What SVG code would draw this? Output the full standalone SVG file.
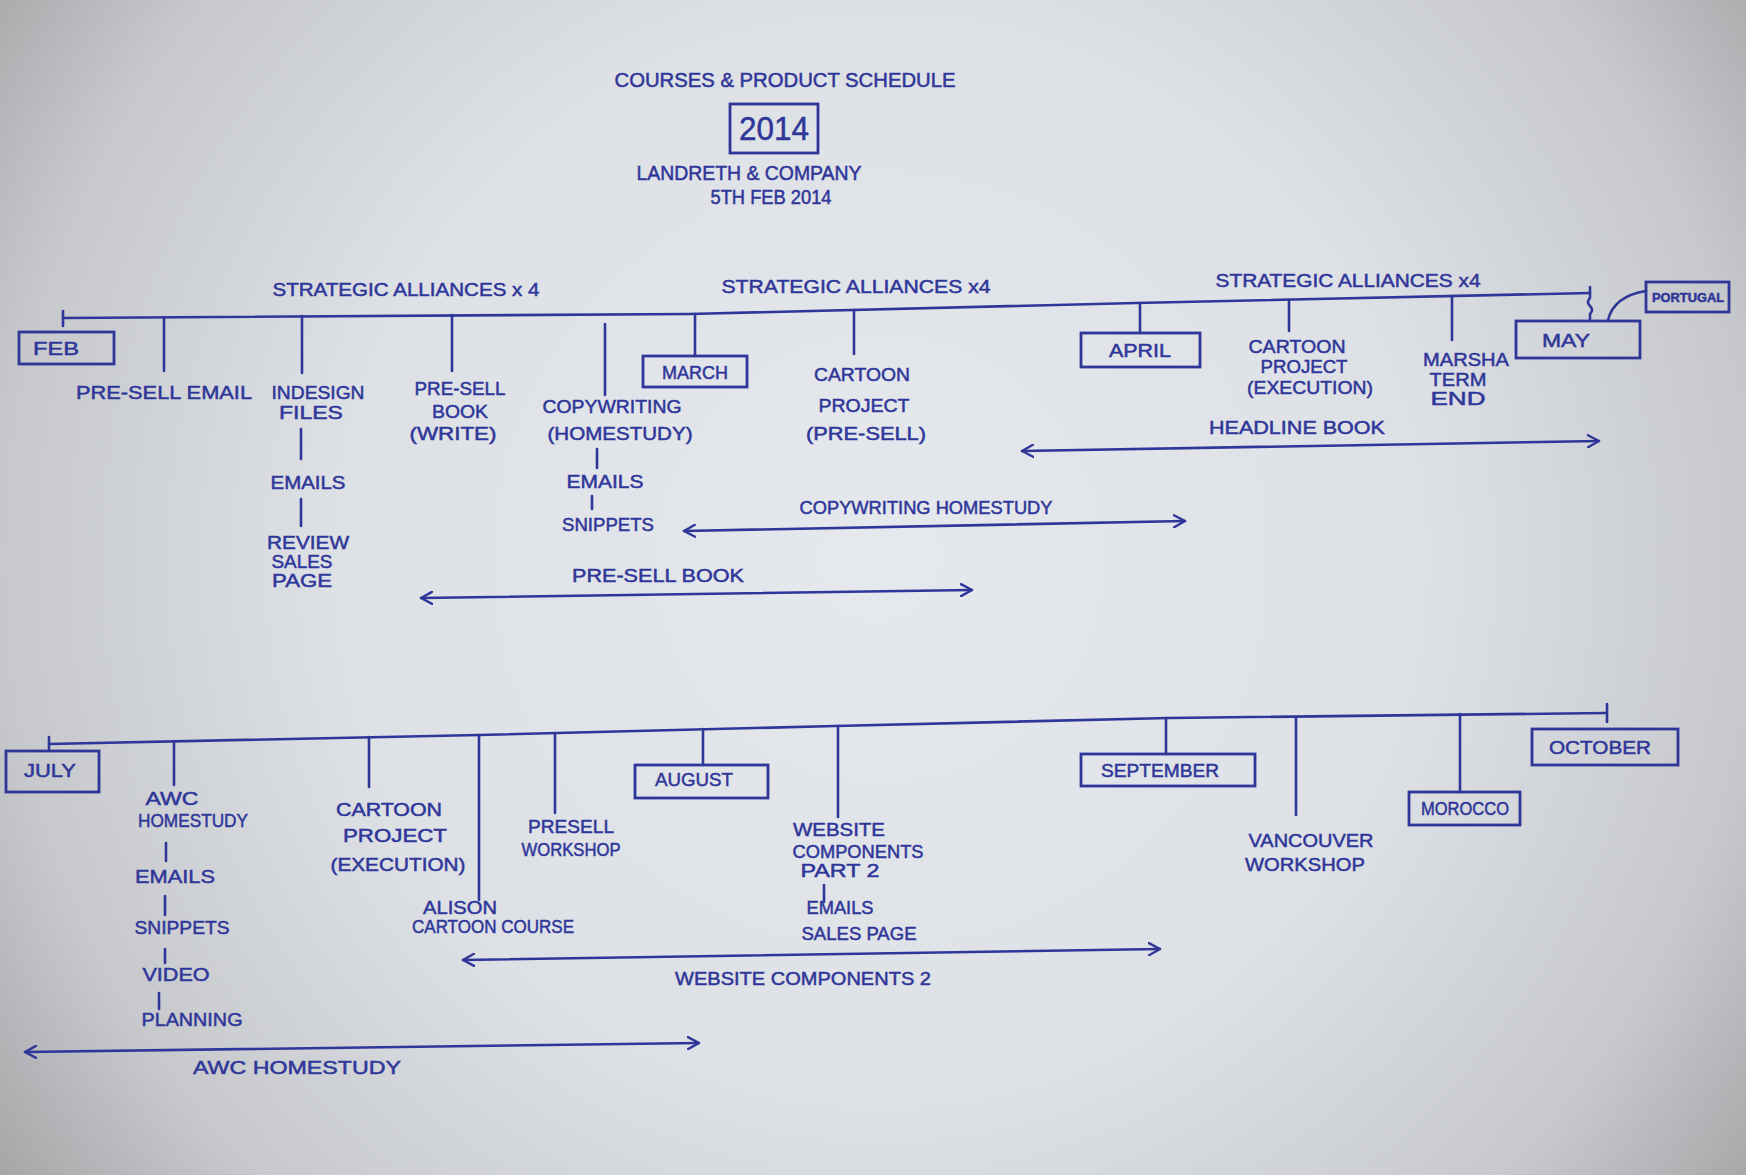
<svg xmlns="http://www.w3.org/2000/svg" width="1746" height="1175" viewBox="0 0 1746 1175">
<defs>
<radialGradient id="paper" cx="880" cy="560" r="1100" gradientUnits="userSpaceOnUse">
<stop offset="0" stop-color="#e5e8ed"/>
<stop offset="0.5" stop-color="#dde0e5"/>
<stop offset="0.8" stop-color="#c6c8cc"/>
<stop offset="1" stop-color="#a2a2a3"/>
</radialGradient>
<marker id="ah" viewBox="0 0 14 14" refX="12" refY="7" markerWidth="14" markerHeight="14" markerUnits="userSpaceOnUse" orient="auto-start-reverse">
<path d="M1,1 L12,7 L1,13" fill="none" stroke="#2f3699" stroke-width="2.4" stroke-linecap="round" stroke-linejoin="round"/>
</marker>
<style>
.ink{stroke:#2f3699;stroke-width:2.6;fill:none;stroke-linecap:round;stroke-linejoin:round}
.box{stroke:#2f3699;stroke-width:2.8;fill:none}
.arr{stroke:#2f3699;stroke-width:2.6;fill:none;stroke-linecap:round;marker-start:url(#ah);marker-end:url(#ah)}
text{font-family:"Liberation Sans",Arial,sans-serif;fill:#2f3699;stroke:#2f3699;stroke-width:0.5;font-size:19px;text-anchor:middle}
.t{font-size:20px}
.yr{font-size:34px}
.sm{font-size:13px;font-weight:bold}
</style>
</defs>
<rect x="0" y="0" width="1746" height="1175" fill="url(#paper)"/>

<g id="title">
<text class="t" x="785" y="87" textLength="341" lengthAdjust="spacingAndGlyphs">COURSES &amp; PRODUCT SCHEDULE</text>
<rect class="box" x="730" y="104" width="88" height="49"/>
<text class="yr" x="774" y="140" textLength="70" lengthAdjust="spacingAndGlyphs">2014</text>
<text class="t" x="749" y="180" textLength="225" lengthAdjust="spacingAndGlyphs">LANDRETH &amp; COMPANY</text>
<text class="t" x="771" y="204" textLength="121" lengthAdjust="spacingAndGlyphs">5TH FEB 2014</text>
</g>

<g id="connectors">
<path class="ink" d="M63,318 L690,314 L1136,303 L1590,293"/>
<path class="ink" d="M63,311 L63,326"/>
<path class="ink" d="M1590,287 L1590,298 Q1586,302 1590,306 Q1594,310 1590,314 L1590,320"/>
<path class="ink" d="M164,317 L164,371"/>
<path class="ink" d="M302,316 L302,373"/>
<path class="ink" d="M452,315 L452,371"/>
<path class="ink" d="M605,324 L605,395"/>
<path class="ink" d="M695,314 L695,356"/>
<path class="ink" d="M854,310 L854,354"/>
<path class="ink" d="M1140,303 L1140,333"/>
<path class="ink" d="M1289,300 L1289,331"/>
<path class="ink" d="M1452,296 L1452,340"/>
<path class="ink" d="M1608,320 Q1614,296 1646,291"/>
<path class="ink" d="M301,429 L301,459"/>
<path class="ink" d="M301,499 L301,526"/>
<path class="ink" d="M597,449 L597,468"/>
<path class="ink" d="M592,496 L592,509"/>
<line class="arr" x1="1022" y1="451" x2="1599" y2="441"/>
<line class="arr" x1="684" y1="531" x2="1185" y2="521"/>
<line class="arr" x1="421" y1="598" x2="972" y2="590"/>
<path class="ink" d="M49,744 L479,735 L835,726 L1169,718 L1607,713"/>
<path class="ink" d="M49,737 L49,750"/>
<path class="ink" d="M1607,704 L1607,722"/>
<path class="ink" d="M174,741 L174,785"/>
<path class="ink" d="M369,737 L369,787"/>
<path class="ink" d="M479,735 L479,900"/>
<path class="ink" d="M555,733 L555,813"/>
<path class="ink" d="M703,729 L703,765"/>
<path class="ink" d="M838,726 L838,817"/>
<path class="ink" d="M1166,718 L1166,754"/>
<path class="ink" d="M1296,717 L1296,815"/>
<path class="ink" d="M1460,714 L1460,792"/>
<path class="ink" d="M166,843 L166,861"/>
<path class="ink" d="M165,896 L165,915"/>
<path class="ink" d="M165,949 L165,963"/>
<path class="ink" d="M159,993 L159,1009"/>
<path class="ink" d="M824,885 L824,902"/>
<line class="arr" x1="463" y1="960" x2="1160" y2="949"/>
<line class="arr" x1="25" y1="1052" x2="699" y2="1043"/>
</g>

<g id="alliances-1"><text x="406" y="296" textLength="267" lengthAdjust="spacingAndGlyphs">STRATEGIC ALLIANCES x 4</text></g>
<g id="alliances-2"><text x="856" y="293" textLength="269" lengthAdjust="spacingAndGlyphs">STRATEGIC ALLIANCES x4</text></g>
<g id="alliances-3"><text x="1348" y="287" textLength="265" lengthAdjust="spacingAndGlyphs">STRATEGIC ALLIANCES x4</text></g>

<g id="feb"><rect class="box" x="19" y="332" width="95" height="32"/><text x="56" y="355" textLength="46" lengthAdjust="spacingAndGlyphs">FEB</text></g>
<g id="presell-email"><text x="164" y="399" textLength="176" lengthAdjust="spacingAndGlyphs">PRE-SELL EMAIL</text></g>
<g id="indesign">
<text x="318" y="399" textLength="93" lengthAdjust="spacingAndGlyphs">INDESIGN</text>
<text x="311" y="419" textLength="64" lengthAdjust="spacingAndGlyphs">FILES</text>
</g>
<g id="indesign-emails"><text x="308" y="489" textLength="75" lengthAdjust="spacingAndGlyphs">EMAILS</text></g>
<g id="review-sales-page">
<text x="308" y="549" textLength="82" lengthAdjust="spacingAndGlyphs">REVIEW</text>
<text x="302" y="568" textLength="61" lengthAdjust="spacingAndGlyphs">SALES</text>
<text x="302" y="587" textLength="60" lengthAdjust="spacingAndGlyphs">PAGE</text>
</g>
<g id="presell-book-write">
<text x="460" y="395" textLength="91" lengthAdjust="spacingAndGlyphs">PRE-SELL</text>
<text x="460" y="418" textLength="56" lengthAdjust="spacingAndGlyphs">BOOK</text>
<text x="453" y="440" textLength="87" lengthAdjust="spacingAndGlyphs">(WRITE)</text>
</g>
<g id="copywriting">
<text x="612" y="413" textLength="139" lengthAdjust="spacingAndGlyphs">COPYWRITING</text>
<text x="620" y="440" textLength="145" lengthAdjust="spacingAndGlyphs">(HOMESTUDY)</text>
</g>
<g id="copy-emails"><text x="605" y="488" textLength="77" lengthAdjust="spacingAndGlyphs">EMAILS</text></g>
<g id="copy-snippets"><text x="608" y="531" textLength="92" lengthAdjust="spacingAndGlyphs">SNIPPETS</text></g>
<g id="march"><rect class="box" x="643" y="356" width="104" height="31"/><text x="695" y="379" textLength="66" lengthAdjust="spacingAndGlyphs">MARCH</text></g>
<g id="cartoon-presell">
<text x="862" y="381" textLength="96" lengthAdjust="spacingAndGlyphs">CARTOON</text>
<text x="864" y="412" textLength="91" lengthAdjust="spacingAndGlyphs">PROJECT</text>
<text x="866" y="440" textLength="120" lengthAdjust="spacingAndGlyphs">(PRE-SELL)</text>
</g>
<g id="april"><rect class="box" x="1081" y="333" width="119" height="34"/><text x="1140" y="357" textLength="62" lengthAdjust="spacingAndGlyphs">APRIL</text></g>
<g id="cartoon-execution-1">
<text x="1297" y="353" textLength="97" lengthAdjust="spacingAndGlyphs">CARTOON</text>
<text x="1304" y="373" textLength="87" lengthAdjust="spacingAndGlyphs">PROJECT</text>
<text x="1310" y="394" textLength="126" lengthAdjust="spacingAndGlyphs">(EXECUTION)</text>
</g>
<g id="marsha">
<text x="1466" y="366" textLength="86" lengthAdjust="spacingAndGlyphs">MARSHA</text>
<text x="1458" y="386" textLength="57" lengthAdjust="spacingAndGlyphs">TERM</text>
<text x="1458" y="405" textLength="55" lengthAdjust="spacingAndGlyphs">END</text>
</g>
<g id="may"><rect class="box" x="1516" y="321" width="124" height="37"/><text x="1566" y="347" textLength="48" lengthAdjust="spacingAndGlyphs">MAY</text></g>
<g id="portugal"><rect class="box" x="1646" y="282" width="83" height="30"/><text class="sm" x="1688" y="302" textLength="72" lengthAdjust="spacingAndGlyphs">PORTUGAL</text></g>
<g id="headline-book"><text x="1297" y="434" textLength="176" lengthAdjust="spacingAndGlyphs">HEADLINE BOOK</text></g>
<g id="copywriting-homestudy"><text x="926" y="514" textLength="253" lengthAdjust="spacingAndGlyphs">COPYWRITING HOMESTUDY</text></g>
<g id="presell-book"><text x="658" y="582" textLength="172" lengthAdjust="spacingAndGlyphs">PRE-SELL BOOK</text></g>

<g id="july"><rect class="box" x="6" y="751" width="93" height="41"/><text x="50" y="777" textLength="52" lengthAdjust="spacingAndGlyphs">JULY</text></g>
<g id="awc">
<text x="172" y="805" textLength="53" lengthAdjust="spacingAndGlyphs">AWC</text>
<text x="193" y="827" textLength="110" lengthAdjust="spacingAndGlyphs">HOMESTUDY</text>
</g>
<g id="awc-emails"><text x="175" y="883" textLength="80" lengthAdjust="spacingAndGlyphs">EMAILS</text></g>
<g id="awc-snippets"><text x="182" y="934" textLength="95" lengthAdjust="spacingAndGlyphs">SNIPPETS</text></g>
<g id="awc-video"><text x="176" y="981" textLength="67" lengthAdjust="spacingAndGlyphs">VIDEO</text></g>
<g id="awc-planning"><text x="192" y="1026" textLength="101" lengthAdjust="spacingAndGlyphs">PLANNING</text></g>
<g id="cartoon-execution-2">
<text x="389" y="816" textLength="106" lengthAdjust="spacingAndGlyphs">CARTOON</text>
<text x="395" y="842" textLength="104" lengthAdjust="spacingAndGlyphs">PROJECT</text>
<text x="398" y="871" textLength="135" lengthAdjust="spacingAndGlyphs">(EXECUTION)</text>
</g>
<g id="alison">
<text x="460" y="914" textLength="74" lengthAdjust="spacingAndGlyphs">ALISON</text>
<text x="493" y="933" textLength="162" lengthAdjust="spacingAndGlyphs">CARTOON COURSE</text>
</g>
<g id="presell-workshop">
<text x="571" y="833" textLength="86" lengthAdjust="spacingAndGlyphs">PRESELL</text>
<text x="571" y="856" textLength="99" lengthAdjust="spacingAndGlyphs">WORKSHOP</text>
</g>
<g id="august"><rect class="box" x="635" y="765" width="133" height="33"/><text x="694" y="786" textLength="78" lengthAdjust="spacingAndGlyphs">AUGUST</text></g>
<g id="website">
<text x="839" y="836" textLength="92" lengthAdjust="spacingAndGlyphs">WEBSITE</text>
<text x="858" y="858" textLength="131" lengthAdjust="spacingAndGlyphs">COMPONENTS</text>
<text x="840" y="877" textLength="79" lengthAdjust="spacingAndGlyphs">PART 2</text>
</g>
<g id="website-emails"><text x="840" y="914" textLength="67" lengthAdjust="spacingAndGlyphs">EMAILS</text></g>
<g id="website-sales-page"><text x="859" y="940" textLength="115" lengthAdjust="spacingAndGlyphs">SALES PAGE</text></g>
<g id="september"><rect class="box" x="1081" y="754" width="174" height="32"/><text x="1160" y="777" textLength="118" lengthAdjust="spacingAndGlyphs">SEPTEMBER</text></g>
<g id="vancouver">
<text x="1311" y="847" textLength="125" lengthAdjust="spacingAndGlyphs">VANCOUVER</text>
<text x="1305" y="871" textLength="120" lengthAdjust="spacingAndGlyphs">WORKSHOP</text>
</g>
<g id="morocco"><rect class="box" x="1409" y="792" width="111" height="33"/><text x="1465" y="815" textLength="88" lengthAdjust="spacingAndGlyphs">MOROCCO</text></g>
<g id="october"><rect class="box" x="1532" y="729" width="146" height="36"/><text x="1600" y="754" textLength="102" lengthAdjust="spacingAndGlyphs">OCTOBER</text></g>
<g id="website-components-2"><text x="803" y="985" textLength="256" lengthAdjust="spacingAndGlyphs">WEBSITE COMPONENTS 2</text></g>
<g id="awc-homestudy"><text x="297" y="1074" textLength="208" lengthAdjust="spacingAndGlyphs">AWC HOMESTUDY</text></g>
</svg>
